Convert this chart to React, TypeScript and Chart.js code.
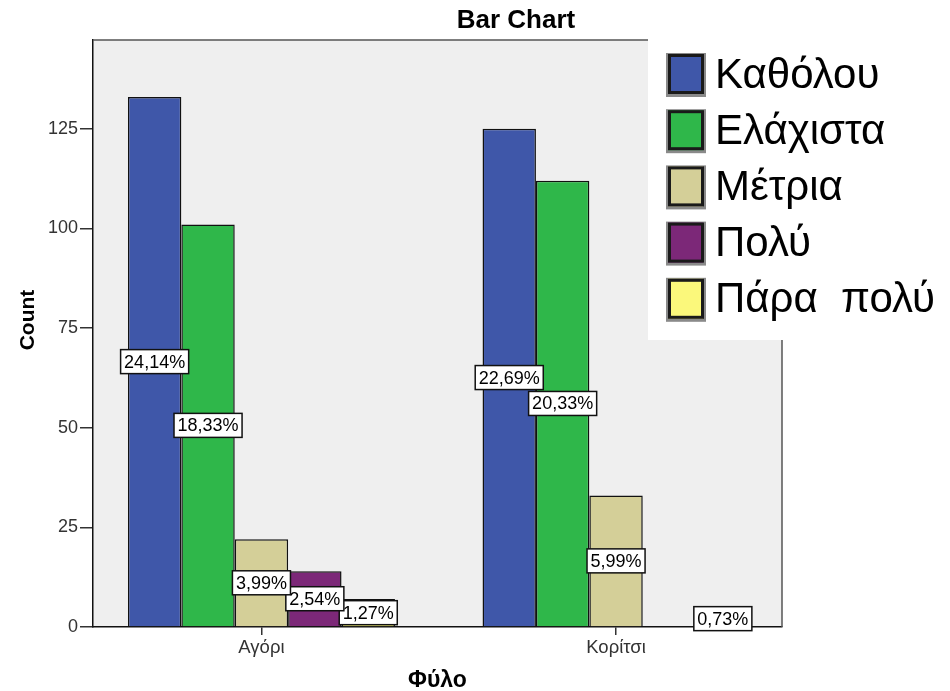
import React, { useEffect, useRef } from "react";
import { Chart, registerables } from "chart.js";

Chart.register(...registerables);

const categories = ["Αγόρι", "Κορίτσι"];
const seriesNames = ["Καθόλου", "Ελάχιστα", "Μέτρια", "Πολύ", "Πάρα  πολύ"];
const kathólou = [133, 125];
const eláchista = [101, 112];
const métria = [22, 33];
const polý = [14, 0];
const páraPolý = [7, 4];
const yTicks = [0, 25, 50, 75, 100, 125];
const yMax = 147.3;
const xMin = -0.475;
const xMax = 1.468;
const seriesColors = ["#3f57a9", "#2fb74a", "#d4cf98", "#7c2878", "#fbf87b"];
const titleText = "Bar Chart";
const yTitle = "Count";
const xTitle = "Φύλο";

const FONT = "Arial, 'Liberation Sans', sans-serif";

const seriesValues = [kathólou, eláchista, métria, polý, páraPolý];
const total = seriesValues.reduce((s, arr) => s + arr.reduce((a, b) => a + b, 0), 0);

const customPlugin = {
  id: "spssStyle",
  beforeDraw(chart: any) {
    const { ctx, chartArea } = chart;
    const { left, top, right, bottom } = chartArea;
    ctx.save();
    ctx.fillStyle = "#efefef";
    ctx.fillRect(left, top, right - left, bottom - top);
    ctx.restore();
  },
  afterDatasetsDraw(chart: any) {
    const { ctx } = chart;
    ctx.save();
    ctx.font = `18px ${FONT}`;
    ctx.textAlign = "center";
    ctx.textBaseline = "middle";
    for (let d = chart.data.datasets.length - 1; d >= 0; d--) {
      const meta = chart.getDatasetMeta(d);
      meta.data.forEach((bar: any, i: number) => {
        const v = chart.data.datasets[d].data[i].y;
        if (!v) return;
        const label = ((v / total) * 100).toFixed(2).replace(".", ",") + "%";
        const cx = bar.x;
        const cy = (bar.y + bar.base) / 2;
        const w = ctx.measureText(label).width + 7;
        const h = 24;
        ctx.fillStyle = "#ffffff";
        ctx.fillRect(cx - w / 2, cy - h / 2, w, h);
        ctx.strokeStyle = "#111";
        ctx.lineWidth = 1.5;
        ctx.strokeRect(cx - w / 2, cy - h / 2, w, h);
        ctx.fillStyle = "#000";
        ctx.fillText(label, cx, cy + 1);
      });
    }
    ctx.restore();
  },
  afterDraw(chart: any) {
    const { ctx, chartArea } = chart;
    const { left, top, right, bottom } = chartArea;
    ctx.save();
    ctx.strokeStyle = "#555";
    ctx.lineWidth = 1.5;
    ctx.beginPath();
    ctx.moveTo(left, top);
    ctx.lineTo(right, top);
    ctx.lineTo(right, bottom);
    ctx.stroke();

    ctx.fillStyle = "#000";
    ctx.font = `bold 26px ${FONT}`;
    ctx.textAlign = "center";
    ctx.textBaseline = "middle";
    ctx.fillText(titleText, 516, 21);

    ctx.font = `bold 23px ${FONT}`;
    ctx.fillText(xTitle, (left + right) / 2, 681);

    ctx.font = `bold 21px ${FONT}`;
    ctx.save();
    ctx.translate(28, 320);
    ctx.rotate(-Math.PI / 2);
    ctx.fillText(yTitle, 0, 0);
    ctx.restore();

    // legend
    ctx.fillStyle = "#ffffff";
    ctx.fillRect(648, 36, 302, 304);
    ctx.textAlign = "left";
    ctx.font = `42px ${FONT}`;
    chart.data.datasets.forEach((ds: any, i: number) => {
      const cy = 74 + i * 56.2;
      ctx.fillStyle = "#8a8a8a";
      ctx.fillRect(666, cy - 21, 40, 44);
      ctx.fillStyle = ds.backgroundColor;
      ctx.fillRect(668, cy - 20, 35, 40);
      ctx.strokeStyle = "#1a1a1a";
      ctx.lineWidth = 3;
      ctx.strokeRect(669.5, cy - 18.5, 33, 37);
      ctx.fillStyle = "#000";
      ctx.fillText(ds.label, 715, cy + 2);
    });
    ctx.restore();
  },
};

export default function App() {
  const ref = useRef<HTMLCanvasElement | null>(null);
  useEffect(() => {
    if (!ref.current) return;
    const chart = new Chart(ref.current, {
      type: "bar",
      data: {
        datasets: seriesNames.map((name, i) => ({
          label: name,
          data: seriesValues[i].map((v, c) => ({ x: c, y: v })),
          backgroundColor: seriesColors[i],
          borderColor: "#111",
          borderWidth: 1.5,
          categoryPercentage: 0.753,
          barPercentage: 1,
        })),
      },
      options: {
        responsive: false,
        animation: false,
        layout: { padding: { top: 40, right: 168, left: 0, bottom: 0 } },
        plugins: {
          legend: { display: false },
          title: { display: false },
          tooltip: { enabled: false },
        },
        scales: {
          x: {
            type: "linear",
            min: xMin,
            max: xMax,
            offset: false,
            grid: {
              offset: false,
              drawOnChartArea: false,
              drawTicks: true,
              tickLength: 8,
              color: "#333",
              lineWidth: 1.5,
            },
            border: { display: true, color: "#111", width: 1.5 },
            ticks: {
              color: "#333",
              font: { size: 18.5, family: FONT },
              padding: 2,
              callback: (v: any) => categories[v] ?? "",
            },
            afterBuildTicks: (s: any) => {
              s.ticks = categories.map((_, i) => ({ value: i }));
            },
            afterFit: (s: any) => {
              s.height = 64;
            },
          },
          y: {
            min: 0,
            max: yMax,
            grid: {
              drawOnChartArea: false,
              drawTicks: true,
              tickLength: 13,
              color: "#333",
              lineWidth: 1.5,
            },
            border: { display: true, color: "#111", width: 1.5 },
            ticks: { color: "#333", font: { size: 18, family: FONT }, padding: 2 },
            afterBuildTicks: (s: any) => {
              s.ticks = yTicks.map((v) => ({ value: v }));
            },
            afterFit: (s: any) => {
              s.width = 93;
            },
          },
        },
      },
      plugins: [customPlugin],
    });
    return () => chart.destroy();
  }, []);
  return (
    <div style={{ position: "fixed", left: 0, top: 0, width: 950, height: 691, background: "#fff" }}>
      <canvas ref={ref} width={950} height={691} />
    </div>
  );
}
